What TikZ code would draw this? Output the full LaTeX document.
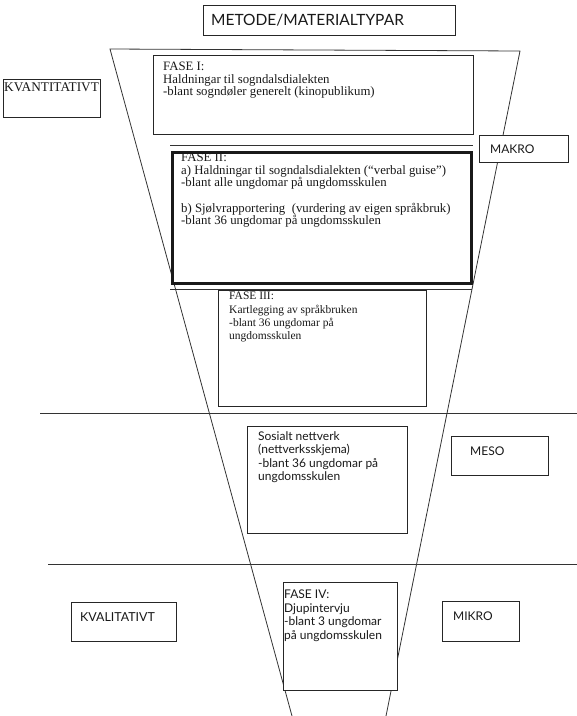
\documentclass[tikz,border=0pt]{standalone}
\usepackage{fontspec}
\setmainfont{Liberation Serif}
\setsansfont{Lato}
\usetikzlibrary{positioning}

\tikzset{
  boks/.style={draw=black!85, line width=0.8pt, fill=white, rectangle, anchor=north west, inner sep=0pt},
  tekst/.style={anchor=north west, align=left, inner sep=0pt, text=black!90},
  serif/.style={font=\rmfamily\fontsize{12.8}{12.6}\selectfont},
  sans/.style={font=\sffamily\fontsize{12}{13.5}\selectfont},
  stor/.style={font=\sffamily\fontsize{12}{13}\selectfont},
  linje/.style={draw=black!80, line width=0.8pt}
}

\begin{document}
\begin{tikzpicture}[x=1pt, y=-1pt]

\useasboundingbox (0,0) rectangle (577,716);

% traktar
\coordinate (topv) at (110,49);
\coordinate (toph) at (520,51);
\coordinate (botnv) at (292,716);
\coordinate (botnh) at (386,716);
\draw[linje] (botnv) -- (topv) -- (toph) -- (botnh);

% skiljelinjer
\coordinate (skil1v) at (40,413);
\coordinate (skil1h) at (577,413);
\coordinate (skil2v) at (48,564);
\coordinate (skil2h) at (577,564);
\draw[linje] (skil1v) -- (skil1h);
\draw[linje] (skil2v) -- (skil2h);

% overskrift
\node[boks, minimum width=252pt, minimum height=30pt] (tittel) at (203,5) {};
\node[tekst, font=\sffamily\fontsize{15.5}{17}\selectfont, anchor=west] (tittelt) at ([xshift=8pt]tittel.west) {METODE/MATERIALTYPAR};

% venstre side
\node[boks, minimum width=97pt, minimum height=38pt] (kvant) at (3,79) {};
\node[tekst, font=\rmfamily\fontsize{13.3}{14}\selectfont] (kvantt) at ([shift={(1,4)}]kvant.north west) {KVANTITATIVT};

\node[boks, minimum width=105pt, minimum height=39pt] (kval) at (71,602) {};
\node[tekst, font=\sffamily\fontsize{12.4}{14}\selectfont] (kvalt) at ([shift={(9,10)}]kval.north west) {KVALITATIVT};

% fase I
\node[boks, minimum width=320pt, minimum height=79pt] (fase1) at (153,55) {};
\node[tekst, serif] (fase1t) at ([shift={(10,7)}]fase1.north west) {FASE I:\\Haldningar til sogndalsdialekten\\-blant sogndøler generelt (kinopublikum)};

% fase II
\draw[linje] (170,145) -- (473,145);
\draw[linje] (170,289) -- (472,289);
\node[boks, line width=2.6pt, draw=black!90, minimum width=299pt, minimum height=131pt] (fase2) at (171,151) {};
\node[tekst, serif] (fase2t) at ([shift={(10,2)}]fase2.north west) {FASE II:\\a) Haldningar til sogndalsdialekten (“verbal guise”)\\-blant alle ungdomar på ungdomsskulen\\[12.6pt]b) Sjølvrapportering\ \ (vurdering av eigen språkbruk)\\-blant 36 ungdomar på ungdomsskulen};

% fase III
\node[boks, minimum width=208pt, minimum height=116pt] (fase3) at (218,290) {};
\node[tekst, font=\rmfamily\fontsize{11.5}{13.2}\selectfont] (fase3t) at ([shift={(11,2)}]fase3.north west) {FASE III:\\Kartlegging av språkbruken\\-blant 36 ungdomar på\\ungdomsskulen};

% nettverk
\node[boks, minimum width=160pt, minimum height=107pt] (nettv) at (247,426) {};
\node[tekst, sans] (nettvt) at ([shift={(11,5)}]nettv.north west) {Sosialt nettverk\\(nettverksskjema)\\-blant 36 ungdomar på\\ungdomsskulen};

% fase IV
\node[boks, minimum width=114pt, minimum height=108pt] (fase4) at (283,582) {};
\node[tekst, sans] (fase4t) at ([shift={(1,8)}]fase4.north west) {FASE IV:\\Djupintervju\\-blant 3 ungdomar\\på ungdomsskulen};

% hogre side
\node[boks, minimum width=89pt, minimum height=27pt] (makro) at (479,135) {};
\node[tekst, stor, anchor=west] (makrot) at ([xshift=11pt]makro.west) {MAKRO};

\node[boks, minimum width=97pt, minimum height=39pt] (meso) at (451,436) {};
\node[tekst, stor] (mesot) at ([shift={(19,11)}]meso.north west) {MESO};

\node[boks, minimum width=77pt, minimum height=40pt] (mikro) at (442,601) {};
\node[tekst, stor] (mikrot) at ([shift={(11,11)}]mikro.north west) {MIKRO};

\end{tikzpicture}
\end{document}
